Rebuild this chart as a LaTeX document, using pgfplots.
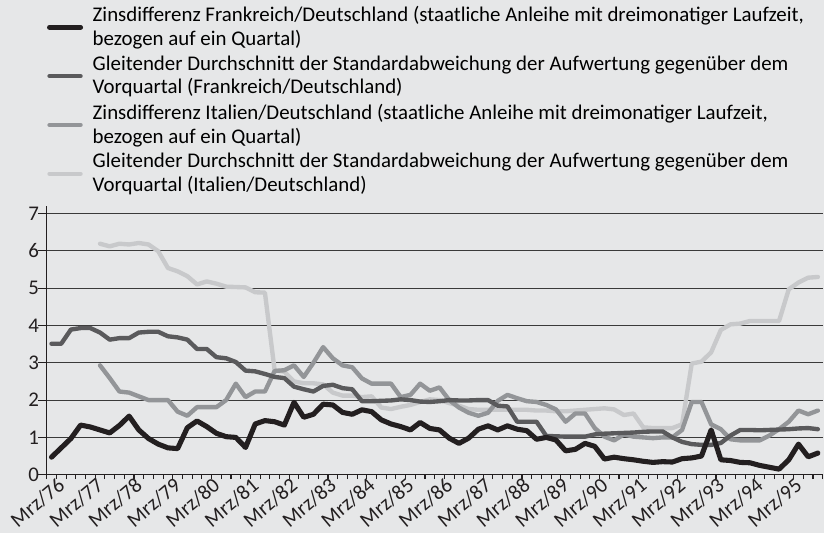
\documentclass[border=0pt]{standalone}
\usepackage{fontspec}
\setmainfont{Carlito}
\usepackage{pgfplots}
\usepackage{pgfplotstable}
\pgfplotsset{compat=1.18}

\definecolor{bgc}{HTML}{E6E7E8}
\definecolor{frz}{HTML}{231F20}
\definecolor{frsd}{HTML}{5A5A5C}
\definecolor{itz}{HTML}{939598}
\definecolor{itsd}{HTML}{C8C9CB}
\definecolor{gridc}{HTML}{3A3A3A}

% Quartale ab Mrz/76 (i = 0) bis Dez/95 (i = 79)
\pgfplotstableread{
i  fr    frsd  it    itsd
0  0.47  3.51  nan   nan
1  0.72  3.51  nan   nan
2  0.97  3.89  nan   nan
3  1.33  3.93  nan   nan
4  1.28  3.93  nan   nan
5  1.20  3.81  2.93  6.19
6  1.12  3.62  2.59  6.12
7  1.32  3.66  2.23  6.19
8  1.57  3.66  2.20  6.17
9  1.20  3.81  2.10  6.21
10 0.97  3.83  2.00  6.17
11 0.82  3.83  2.00  5.99
12 0.72  3.71  2.00  5.54
13 0.70  3.68  1.69  5.45
14 1.26  3.62  1.58  5.32
15 1.44  3.37  1.81  5.10
16 1.29  3.37  1.81  5.18
17 1.11  3.15  1.81  5.12
18 1.02  3.12  2.00  5.04
19 1.00  3.02  2.44  5.03
20 0.73  2.79  2.08  5.02
21 1.36  2.77  2.23  4.89
22 1.45  2.70  2.23  4.88
23 1.42  2.62  2.78  2.80
24 1.33  2.59  2.80  2.76
25 1.94  2.36  2.93  2.50
26 1.54  2.29  2.62  2.45
27 1.62  2.23  3.00  2.45
28 1.89  2.38  3.42  2.42
29 1.87  2.41  3.12  2.20
30 1.67  2.32  2.93  2.12
31 1.62  2.29  2.88  2.12
32 1.74  1.97  2.58  2.08
33 1.69  1.97  2.44  2.10
34 1.47  1.98  2.44  1.80
35 1.36  1.99  2.44  1.76
36 1.29  2.02  2.08  1.82
37 1.20  2.00  2.14  1.87
38 1.40  1.96  2.44  1.95
39 1.24  1.95  2.25  2.02
40 1.20  1.97  2.34  2.00
41 0.98  2.00  2.00  1.92
42 0.84  1.99  1.80  1.85
43 0.98  1.99  1.66  1.76
44 1.22  2.00  1.58  1.74
45 1.31  2.00  1.66  1.74
46 1.20  1.85  1.98  1.74
47 1.31  1.83  2.14  1.74
48 1.22  1.42  2.05  1.74
49 1.18  1.42  1.97  1.74
50 0.95  1.42  1.95  1.72
51 1.00  1.04  1.87  1.72
52 0.93  1.03  1.75  1.70
53 0.64  1.02  1.42  1.70
54 0.68  1.02  1.64  1.72
55 0.84  1.02  1.64  1.74
56 0.76  1.08  1.25  1.76
57 0.42  1.10  1.02  1.78
58 0.47  1.11  0.92  1.75
59 0.43  1.12  1.08  1.60
60 0.40  1.13  1.02  1.64
61 0.36  1.15  1.00  1.27
62 0.33  1.16  0.98  1.25
63 0.35  1.16  1.00  1.25
64 0.34  1.00  1.00  1.25
65 0.43  0.88  1.20  1.35
66 0.45  0.82  1.95  2.98
67 0.50  0.80  1.95  3.03
68 1.20  0.80  1.35  3.28
69 0.40  0.85  1.22  3.88
70 0.38  1.05  0.95  4.03
71 0.33  1.20  0.92  4.05
72 0.32  1.20  0.92  4.12
73 0.25  1.19  0.92  4.12
74 0.20  1.20  1.05  4.12
75 0.15  1.21  1.22  4.12
76 0.40  1.22  1.42  4.97
77 0.82  1.24  1.72  5.15
78 0.48  1.25  1.62  5.28
79 0.58  1.22  1.72  5.30
}\daten

\begin{document}
\begin{tikzpicture}
  \path[use as bounding box, fill=bgc] (-25.7pt,-32.1pt) rectangle (428.2pt,261.5pt);
  \begin{axis}[
      at={(0,0)}, anchor=south west,
      scale only axis, width=427.5pt, height=148pt,
      xmin=-0.5, xmax=79.5, ymin=0, ymax=7.2,
      axis lines*=left,
      axis line style={color=frz, line width=0.8pt},
      ytick={0,...,7},
      ymajorgrids, grid style={color=gridc, line width=0.6pt},
      xtick={0,4,...,76},
      xticklabels={Mrz/76,Mrz/77,Mrz/78,Mrz/79,Mrz/80,Mrz/81,Mrz/82,Mrz/83,Mrz/84,Mrz/85,
        Mrz/86,Mrz/87,Mrz/88,Mrz/89,Mrz/90,Mrz/91,Mrz/92,Mrz/93,Mrz/94,Mrz/95},
      minor xtick={-0.5,0.5,...,79.5},
      tick align=outside, major tick length=4.5pt, minor tick length=2.4pt,
      tick style={color=frz, line width=0.6pt},
      major x tick style={draw=none},
      tick label style={font=\fontsize{11.5}{13}\selectfont, color=frz},
      /pgf/number format/assume math mode=true,
      x tick label style={rotate=40, anchor=north east, inner sep=1pt, xshift=5.5pt, yshift=2pt},
      y tick label style={inner sep=1pt, xshift=1.5pt},
      every axis plot/.append style={line cap=round, line join=round},
      reverse legend,
      legend style={at={(0,1)}, anchor=south west, xshift=0pt, yshift=4.3pt,
        draw=none, fill=none, inner sep=0pt, row sep=0.1pt,
        font=\fontsize{11.5}{13.1}\selectfont,
        cells={anchor=west, align=left},
        /tikz/every odd column/.append style={column sep=3.3pt}},
    ]
    \addplot[color=itsd, line width=2.4pt] table[x=i, y=itsd] {\daten};
    \addlegendentry{Gleitender Durchschnitt der Standardabweichung der Aufwertung gegenüber dem\\Vorquartal (Italien/Deutschland)}
    \addplot[color=itz, line width=2.4pt] table[x=i, y=it] {\daten};
    \addlegendentry{Zinsdifferenz Italien/Deutschland (staatliche Anleihe mit dreimonatiger Laufzeit,\\bezogen auf ein Quartal)}
    \addplot[color=frsd, line width=2.4pt] table[x=i, y=frsd] {\daten};
    \addlegendentry{Gleitender Durchschnitt der Standardabweichung der Aufwertung gegenüber dem\\Vorquartal (Frankreich/Deutschland)}
    \addplot[color=frz, line width=2.8pt] table[x=i, y=fr] {\daten};
    \addlegendentry{Zinsdifferenz Frankreich/Deutschland (staatliche Anleihe mit dreimonatiger Laufzeit,\\bezogen auf ein Quartal)}
  \end{axis}
\end{tikzpicture}
\end{document}
